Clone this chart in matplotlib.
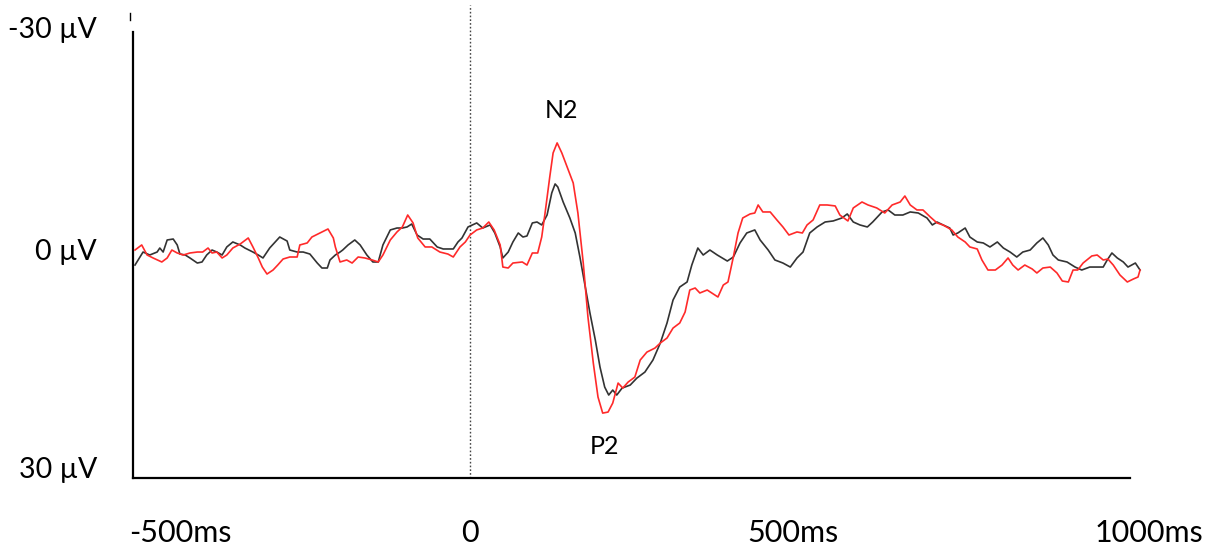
import matplotlib.pyplot as plt
from matplotlib.lines import Line2D
import numpy as np

plt.rcParams['font.family'] = ['Lato', 'DejaVu Sans']

# black trace (ms, uV)
t_black = [-500, -488, -478, -467, -463, -458, -452, -443, -437, -433, -425, -418, -407, -400,
           -393, -385, -378, -370, -363, -354, -343, -336, -324, -316, -309, -299, -284, -273,
           -269, -258, -249, -239, -228, -221, -213, -209, -201, -194, -190, -182, -172, -164,
           -154, -145, -137, -130, -119, -109, -101, -94, -87, -79, -70, -60, -49, -40, -25,
           -18, -12, -3, 10, 19, 30, 37, 45, 49, 57, 64, 72, 79, 85, 93, 100, 107, 115, 122,
           127, 131, 139, 149, 157, 164, 172, 179, 187, 194, 201, 207, 213, 219, 227, 239, 249,
           261, 273, 284, 294, 303, 313, 324, 331, 340, 348, 358, 369, 384, 393, 403, 413, 425,
           433, 445, 455, 467, 478, 488, 497, 507, 518, 530, 542, 555, 563, 572, 582, 593, 601,
           615, 624, 634, 646, 657, 669, 682, 690, 697, 706, 716, 721, 728, 739, 746, 757, 766,
           776, 787, 796, 806, 816, 825, 836, 846, 855, 863, 870, 878, 891, 903, 913, 925, 937,
           945, 951, 958, 966, 975, 982, 993, 1000]
v_black = [1.35, -0.40, 0.0, -0.40, -0.94, -0.40, -2.02, -2.15, -1.35, -0.13, 0.0, 0.40, 1.08, 0.94,
           0.0, -0.67, -0.40, 0.0, -1.08, -1.75, -1.35, -0.94, -0.40, 0.0, 0.40, -0.94, -2.42, -1.88,
           -0.67, -0.40, -0.40, -0.13, 1.08, 1.75, 1.75, 0.67, 0.0, -0.40, -0.67, -1.35, -2.02, -1.35,
           0.0, 0.94, 0.94, -1.35, -3.37, -3.63, -3.63, -3.77, -4.17, -2.69, -2.15, -2.15, -1.08, -0.81, -0.81,
           -1.75, -2.29, -3.77, -4.31, -3.63, -4.04, -2.96, -1.08, 0.40, -0.40, -1.75, -2.96, -2.42, -2.56, -4.31, -4.44, -4.04, -5.38, -8.35,
           -9.56, -9.15, -7.13, -4.98, -2.96, 0.27, 4.31, 7.81, 11.44, 15.08, 17.77, 18.84, 18.17, 18.84, 17.90, 17.50, 16.56,
           15.75, 14.13, 11.84, 9.15, 6.06, 4.31, 3.63, 1.35, -0.94, 0.0, -0.67, 0.0, 0.81, 0.27, -1.62, -2.96, -3.37,
           -2.02, -0.67, 0.67, 1.08, 1.62, 0.40, -0.40, -2.96, -3.77, -4.44, -4.58, -4.98, -5.52, -4.44, -4.04, -3.77, -4.44,
           -5.79, -6.06, -5.38, -5.38, -5.79, -5.65, -4.98, -4.04, -4.44, -4.04, -3.63, -2.69, -2.96, -3.63, -2.42, -1.75, -1.62,
           -1.08, -1.75, -0.94, -0.40, 0.27, -0.40, -0.67, -1.62, -2.29, -1.35, 0.0, 0.67, 0.94, 1.62, 2.02, 1.62, 1.62,
           1.62, 0.67, -0.27, 0.40, 0.94, 1.62, 1.08, 2.02]

# red trace (ms, uV)
t_red = [-500, -490, -482, -473, -460, -452, -445, -437, -428, -418, -407, -399, -391, -385, -378,
         -370, -363, -354, -343, -331, -324, -316, -310, -303, -294, -287, -279, -269, -258, -254,
         -243, -236, -224, -212, -204, -201, -194, -184, -176, -167, -157, -146, -137, -130, -119,
         -109, -101, -93, -85, -78, -67, -57, -45, -33, -25, -15, -7, 0, 10, 19, 28, 36, 45, 49,
         57, 64, 78, 85, 93, 101, 107, 112, 119, 124, 130, 137, 145, 154, 161, 169, 176, 184, 191,
         198, 206, 213, 221, 228, 236, 246, 254, 264, 276, 284, 294, 303, 313, 321, 328, 336, 343,
         354, 370, 378, 385, 393, 400, 407, 418, 425, 430, 437, 448, 458, 467, 476, 488, 496, 503,
         512, 522, 533, 545, 552, 564, 572, 585, 594, 607, 619, 630, 642, 649, 657, 667, 676, 687,
         697, 706, 719, 728, 739, 746, 757, 764, 773, 784, 794, 803, 810, 818, 828, 839, 846, 855,
         866, 876, 884, 893, 900, 907, 915, 928, 936, 945, 952, 960, 970, 981, 990, 997, 1000]
v_red = [-0.67, -1.35, 0.0, 0.40, 0.94, 0.40, -0.67, -0.27, 0.0, -0.27, -0.40, -0.40, -0.94, -0.27, -0.40,
         0.40, 0.0, -0.94, -1.48, -2.29, -1.08, 0.40, 1.62, 2.56, 2.02, 1.35, 0.54, 0.27, 0.27, -1.35,
         -1.62, -2.42, -2.96, -3.50, -2.29, -1.08, 0.94, 0.67, 1.08, 0.27, 0.40, 0.67, 0.94, 0.0, -2.02,
         -3.10, -3.77, -5.38, -4.31, -2.29, -1.08, -1.08, -0.40, -0.13, 0.27, -1.08, -1.75, -2.69, -3.37, -3.63, -4.44, -3.37, -1.35, 1.62,
         1.75, 1.08, 0.94, 1.35, -0.27, -0.27, -2.42, -5.65, -10.50, -13.73, -15.08, -13.73, -11.84, -9.69, -5.65, 1.08, 8.35, 14.54, 19.11,
         21.27, 21.13, 19.92, 17.23, 17.90, 17.09, 16.42, 14.13, 13.06, 12.52, 11.84, 11.17, 9.83, 9.15, 7.67, 4.71, 4.44, 5.11,
         4.71, 5.65, 4.04, 3.63, 0.27, -2.96, -4.98, -5.52, -5.65, -6.73, -5.79, -5.79, -4.71, -3.77, -2.69, -3.10, -2.96, -4.04,
         -4.71, -6.73, -6.73, -6.60, -5.38, -4.58, -6.33, -7.13, -6.73, -6.33, -5.65, -6.73, -7.13, -7.94, -6.73, -6.06, -6.06, -5.11,
         -4.31, -4.04, -3.37, -2.42, -1.75, -1.08, -0.81, 0.67, 2.02, 2.02, 1.35, 0.40, 1.35, 2.02, 1.35, 1.88, 2.42, 1.75,
         1.62, 2.42, 3.50, 3.63, 2.02, 2.02, 1.08, 0.13, 0.0, 0.67, 0.54, 1.35, 2.69, 3.63, 3.23, 2.96, 2.02]

x_labels = ['-500ms', '0', '500ms', '1000ms']
y_labels = ['-30 µV', '0 µV', '30 µV']

W, H = 1210, 547
fig = plt.figure(figsize=(W / 100, H / 100), dpi=100)
ax = fig.add_axes([133 / W, (H - 478) / H, (1130 - 133) / W, (478 - 32) / H])

ax.plot(t_black, v_black, color='#333333', lw=1.2, clip_on=False, zorder=3)
ax.plot(t_red, v_red, color='#ff2a2a', lw=1.2, clip_on=False, zorder=4)
ax.plot([0, 0], [30, -33.6], color='#444444', lw=1.0, ls=(0, (1.2, 1.5)), clip_on=False)

ax.set_xlim(-503, 985)
ax.set_ylim(30, -30)
for s in ['top', 'right']:
    ax.spines[s].set_visible(False)
ax.spines['left'].set_linewidth(1.6)
ax.spines['bottom'].set_linewidth(1.6)
ax.set_xticks([])
ax.set_yticks([])

ax.text(137, -19.5, 'N2', fontsize=18, ha='center', va='center')
ax.text(201, 25.8, 'P2', fontsize=18, ha='center', va='center')

# axis labels placed as free text boxes
for lab, xp in zip(x_labels, [180, 470, 793, 1149]):
    fig.text(xp / W, 1 - 533 / H, lab, fontsize=22, ha='center', va='center')
for lab, yp in zip(y_labels, [30, 252, 470]):
    fig.text(97 / W, 1 - yp / H, lab, fontsize=20.5, ha='right', va='center')

fig.add_artist(Line2D([129.5 / W, 129.5 / W], [1 - 13 / H, 1 - 20 / H], color='black', lw=1))

plt.savefig('out.png', dpi=100)
